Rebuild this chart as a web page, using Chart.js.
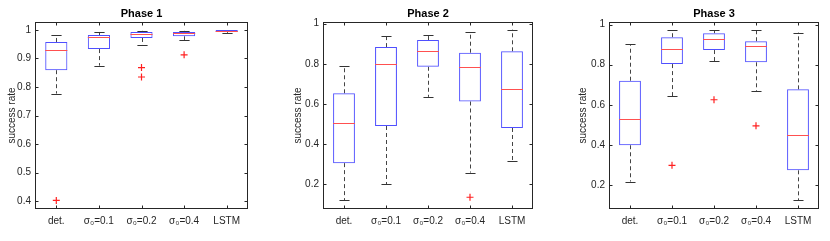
<!DOCTYPE html>
<html>
<head>
<meta charset="utf-8">
<script src="https://cdn.jsdelivr.net/npm/chart.js@4.4.0/dist/chart.umd.min.js"></script>
<style>
  body { margin: 0; background: #fff; width: 830px; height: 241px; overflow: hidden; position: relative; }
  canvas { position: absolute; top: 0; }
</style>
</head>
<body>
<canvas id="p1" width="275" height="241" style="left:0px"></canvas>
<canvas id="p2" width="275" height="241" style="left:275px"></canvas>
<canvas id="p3" width="280" height="241" style="left:550px"></canvas>
<script>
const categories = ['det.', 'σ₀=0.1', 'σ₀=0.2', 'σ₀=0.4', 'LSTM'];

// Phase 1
const p1Low    = [0.777, 0.875, 0.947, 0.965, 0.990];
const p1Q1     = [0.859, 0.933, 0.972, 0.978, 0.993];
const p1Median = [0.930, 0.975, 0.986, 0.990, 0.998];
const p1Q3     = [0.958, 0.982, 0.993, 0.993, 1.000];
const p1High   = [0.981, 0.993, 0.997, 0.997, 1.000];
const p1Outliers = [[0.402], [], [0.868, 0.835], [0.913], []];
const p1Ticks  = [0.4, 0.5, 0.6, 0.7, 0.8, 0.9, 1];

// Phase 2
const p2Low    = [0.120, 0.200, 0.635, 0.258, 0.315];
const p2Q1     = [0.305, 0.490, 0.785, 0.612, 0.480];
const p2Median = [0.505, 0.800, 0.865, 0.785, 0.673];
const p2Q3     = [0.653, 0.883, 0.918, 0.855, 0.862];
const p2High   = [0.787, 0.940, 0.945, 0.958, 0.970];
const p2Outliers = [[], [], [], [0.135], []];
const p2Ticks  = [0.2, 0.4, 0.6, 0.8, 1];

// Phase 3
const p3Low    = [0.217, 0.642, 0.818, 0.668, 0.123];
const p3Q1     = [0.398, 0.803, 0.873, 0.812, 0.273];
const p3Median = [0.530, 0.878, 0.928, 0.893, 0.447];
const p3Q3     = [0.720, 0.937, 0.957, 0.917, 0.677];
const p3High   = [0.903, 0.972, 0.972, 0.972, 0.960];
const p3Outliers = [[], [0.298], [0.625], [0.495], []];
const p3Ticks  = [0.2, 0.4, 0.6, 0.8, 1];

const FONT = "'Liberation Sans', Arial, sans-serif";
const AXIS_COLOR = '#262626';

// whiskers, caps and medians drawn through the chart scales
const boxExtras = {
  id: 'boxExtras',
  beforeDatasetsDraw(chart, args, opts) {
    const ctx = chart.ctx, y = chart.scales.y;
    const meta = chart.getDatasetMeta(0);
    ctx.save();
    ctx.lineWidth = 1;
    opts.low.forEach((lo, i) => {
      const bar = meta.data[i];
      const cx = Math.round(bar.x) + 0.5;
      const capHalf = bar.width * 0.23;
      ctx.strokeStyle = '#444';
      ctx.setLineDash([4, 3]);
      ctx.beginPath();
      ctx.moveTo(cx, y.getPixelForValue(opts.q3[i]));
      ctx.lineTo(cx, y.getPixelForValue(opts.high[i]));
      ctx.moveTo(cx, y.getPixelForValue(opts.q1[i]));
      ctx.lineTo(cx, y.getPixelForValue(lo));
      ctx.stroke();
      ctx.setLineDash([]);
      ctx.strokeStyle = '#333';
      ctx.beginPath();
      const yh = Math.round(y.getPixelForValue(opts.high[i])) + 0.5;
      const yl = Math.round(y.getPixelForValue(lo)) + 0.5;
      ctx.moveTo(cx - capHalf, yh); ctx.lineTo(cx + capHalf, yh);
      ctx.moveTo(cx - capHalf, yl); ctx.lineTo(cx + capHalf, yl);
      ctx.stroke();
    });
    ctx.restore();
  },
  afterDatasetsDraw(chart, args, opts) {
    const ctx = chart.ctx, y = chart.scales.y;
    const meta = chart.getDatasetMeta(0);
    ctx.save();
    ctx.lineWidth = 1;
    ctx.strokeStyle = '#ff5050';
    opts.median.forEach((m, i) => {
      const bar = meta.data[i];
      const ym = Math.round(y.getPixelForValue(m)) + 0.5;
      ctx.beginPath();
      ctx.moveTo(bar.x - bar.width / 2, ym);
      ctx.lineTo(bar.x + bar.width / 2, ym);
      ctx.stroke();
    });
    ctx.restore();
  },
  afterDraw(chart) {
    // MATLAB style box with inward ticks
    const ctx = chart.ctx, a = chart.chartArea;
    const l = Math.round(a.left) + 0.5, r = Math.round(a.right) - 0.5;
    const t = Math.round(a.top) + 0.5, b = Math.round(a.bottom) - 0.5;
    ctx.save();
    ctx.strokeStyle = AXIS_COLOR;
    ctx.lineWidth = 1;
    ctx.strokeRect(l, t, r - l, b - t);
    ctx.beginPath();
    chart.scales.y.ticks.forEach(tk => {
      const py = Math.round(chart.scales.y.getPixelForValue(tk.value)) + 0.5;
      ctx.moveTo(l, py); ctx.lineTo(l + 3, py);
      ctx.moveTo(r, py); ctx.lineTo(r - 3, py);
    });
    categories.forEach((c, i) => {
      const px = Math.round(chart.scales.x.getPixelForValue(i)) + 0.5;
      ctx.moveTo(px, b); ctx.lineTo(px, b - 3);
      ctx.moveTo(px, t); ctx.lineTo(px, t + 3);
    });
    ctx.stroke();
    ctx.restore();
  }
};

function makePanel(id, title, low, q1, median, q3, high, outliers, ticks, yMin, yMax, axisWidth, titlePad, padRight) {
  const outlierPoints = [];
  outliers.forEach((list, i) => list.forEach(v => outlierPoints.push({ x: categories[i], y: v })));

  new Chart(document.getElementById(id), {
    type: 'bar',
    data: {
      labels: categories,
      datasets: [{
        data: q1.map((v, i) => [v, q3[i]]),
        backgroundColor: 'rgba(0,0,0,0)',
        borderColor: '#4f4fff',
        borderWidth: 1,
        borderSkipped: false,
        barPercentage: 0.52,
        categoryPercentage: 1
      }, {
        type: 'line',
        data: outlierPoints,
        showLine: false,
        pointStyle: 'cross',
        pointRadius: 3.5,
        borderColor: '#ff2020',
        borderWidth: 1.2
      }]
    },
    options: {
      responsive: false,
      animation: false,
      devicePixelRatio: 1,
      layout: { padding: { left: 0, right: padRight, top: 0, bottom: 0 } },
      plugins: {
        legend: { display: false },
        tooltip: { enabled: false },
        title: {
          display: true,
          text: title,
          fullSize: false,
          color: '#000',
          font: { family: FONT, size: 11, weight: 'bold', lineHeight: 1.2 },
          padding: { top: 7.5, bottom: 1.3 }
        },
        boxExtras: { low, q1, median, q3, high }
      },
      scales: {
        x: {
          grid: { display: false, drawTicks: false },
          border: { display: false },
          ticks: { color: AXIS_COLOR, font: { family: FONT, size: 10 }, padding: 6, maxRotation: 0 },
          afterFit: s => { s.height = 32; }
        },
        y: {
          min: yMin,
          max: yMax,
          grid: { display: false, drawTicks: false },
          border: { display: false },
          ticks: {
            color: AXIS_COLOR,
            font: { family: FONT, size: 10 },
            padding: 4,
            callback: v => String(Math.round(v * 10) / 10)
          },
          afterBuildTicks: s => { s.ticks = ticks.map(v => ({ value: v })); },
          afterFit: s => { s.width = axisWidth; },
          title: {
            display: true,
            text: 'success rate',
            color: AXIS_COLOR,
            font: { family: FONT, size: 10, lineHeight: 1.2 },
            padding: { top: titlePad, bottom: 0 }
          }
        }
      }
    },
    plugins: [boxExtras]
  });
}

makePanel('p1', 'Phase 1', p1Low, p1Q1, p1Median, p1Q3, p1High, p1Outliers, p1Ticks, 0.372, 1.028, 35, 6, 27);
makePanel('p2', 'Phase 2', p2Low, p2Q1, p2Median, p2Q3, p2High, p2Outliers, p2Ticks, 0.0765, 1.008, 48, 17, 17);
makePanel('p3', 'Phase 3', p3Low, p3Q1, p3Median, p3Q3, p3High, p3Outliers, p3Ticks, 0.08, 1.013, 59, 27, 11);
</script>
</body>
</html>
